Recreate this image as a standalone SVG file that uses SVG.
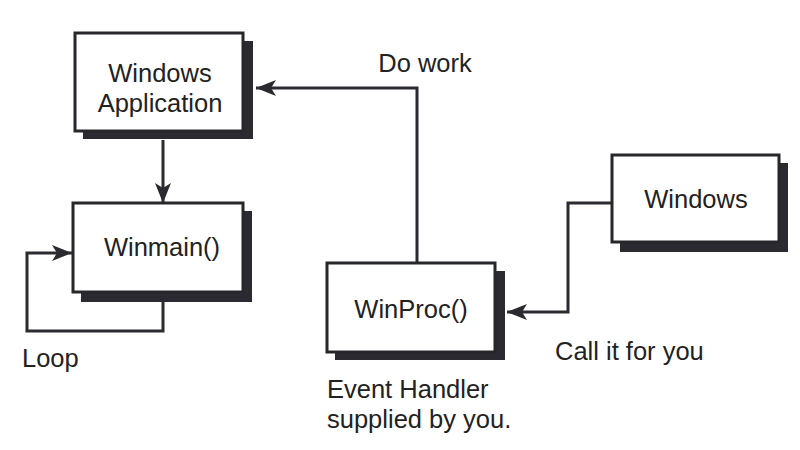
<svg xmlns="http://www.w3.org/2000/svg" width="800" height="450" viewBox="0 0 800 450">
<style>
.box{fill:#fff;stroke:#26262b;stroke-width:3}
.shadow{fill:#2a2a30}
.lbl{font-family:"Liberation Sans",Arial,Helvetica,sans-serif;font-size:25.5px;fill:#222}
.c{text-anchor:middle}
.wire{fill:none;stroke:#2a2a30;stroke-width:3}
</style>
<defs>
<marker id="arr" viewBox="0 0 20 16" refX="20" refY="8" markerWidth="20" markerHeight="16" markerUnits="userSpaceOnUse" orient="auto">
<path d="M0,0 L20,8 L0,16 L5,8 z" fill="#2a2a30"/>
</marker>
</defs>
<rect width="800" height="450" fill="#fff"/>
<g id="connectors">
<path class="wire" d="M163,140 V203" marker-end="url(#arr)"/>
<path class="wire" d="M163,302 V331 H27 V253 H72" marker-end="url(#arr)"/>
<path class="wire" d="M417,263 V88 H256" marker-end="url(#arr)"/>
<path class="wire" d="M612,203 H568 V312 H507" marker-end="url(#arr)"/>
</g>
<g id="winapp">
<rect class="shadow" x="83" y="41" width="170" height="98"/>
<rect class="box" x="75" y="33" width="168" height="98"/>
<text class="lbl c" x="160" y="82">Windows</text>
<text class="lbl c" x="160" y="112">Application</text>
</g>
<g id="winmain">
<rect class="shadow" x="81" y="211" width="171" height="91"/>
<rect class="box" x="73" y="203" width="170" height="89"/>
<text class="lbl c" x="162" y="256">Winmain()</text>
</g>
<g id="winproc">
<rect class="shadow" x="335" y="271" width="170" height="89"/>
<rect class="box" x="327" y="263" width="168" height="89"/>
<text class="lbl c" x="411" y="318">WinProc()</text>
</g>
<g id="windows">
<rect class="shadow" x="620" y="163" width="168" height="89"/>
<rect class="box" x="612" y="155" width="167" height="87"/>
<text class="lbl c" x="696" y="208">Windows</text>
</g>
<g id="labels">
<text class="lbl c" x="425" y="72">Do work</text>
<text class="lbl" x="22" y="367">Loop</text>
<text class="lbl" x="555" y="360">Call it for you</text>
<text class="lbl" x="327" y="398">Event Handler</text>
<text class="lbl" x="327" y="428">supplied by you.</text>
</g>
</svg>
